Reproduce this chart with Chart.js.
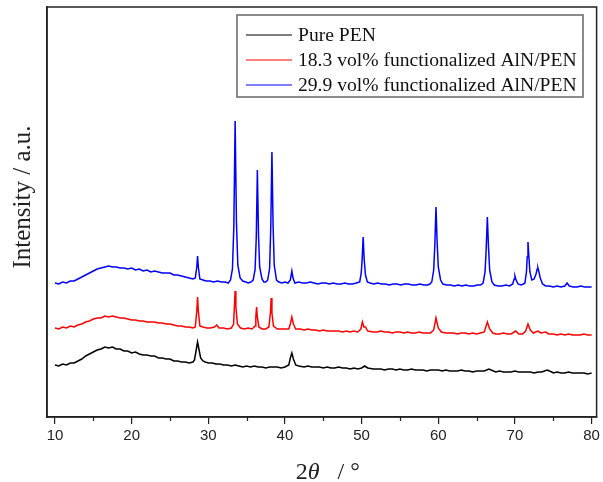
<!DOCTYPE html>
<html>
<head>
<meta charset="utf-8">
<script src="https://cdn.jsdelivr.net/npm/chart.js@4/dist/chart.umd.min.js"></script>
<style>
  html, body { margin: 0; padding: 0; background: #fff; }
  #wrap { width: 603px; height: 482px; }
</style>
</head>
<body>
<div id="wrap"><canvas id="xrd" width="603" height="482"></canvas></div>
<script>
const seriesLabels = ['Pure PEN', '18.3 vol% functionalized AlN/PEN', '29.9 vol% functionalized AlN/PEN']
const seriesColors = ['#000000', '#ff0000', '#0000ff']
const xTicks = [10, 20, 30, 40, 50, 60, 70, 80]
const xMinorTicks = [15, 25, 35, 45, 55, 65, 75]

// [2theta, intensity] pairs, curves already offset from each other
const purePEN = [
  [10,52],[10.5,51],[11,53],[11.5,52],[12,54],[12.5,54],[13,56],[13.5,58],[14,61],[14.5,63],[15,65],[15.5,67],
  [16,68],[16.5,70],[17,69],[17.5,70],[18,68],[18.5,68],[19,66],[19.5,66],[20,64],[20.5,65],[21,63],[21.5,62],
  [22,62],[22.5,61],[23,61],[23.5,59],[24,59],[24.5,58],[25,58],[25.5,56],[26,56],[26.5,55],[27,55],[27.5,54],
  [28,55],[28.2,57],[28.4,66],[28.6,75],[28.8,67],[29,59],[29.3,56],[29.6,55],[30,54],[30.5,54],[31,53],[31.5,53],
  [32,52],[32.5,52],[33,51],[33.5,52],[34,51],[34.5,50],[35,51],[35.5,50],[36,51],[36.5,50],[37,50],[37.5,49],
  [38,50],[38.5,50],[39,50],[39.5,49],[40,50],[40.5,52],[40.7,59],[40.9,64],[41.1,58],[41.4,52],[41.8,51],[42.5,50],
  [43,51],[43.5,50],[44,50],[44.5,50],[45,49],[45.5,50],[46,49],[46.5,49],[47,50],[47.5,49],[48,49],[48.5,48],
  [49,49],[49.5,48],[50,49],[50.4,51],[50.8,49],[51.5,48],[52,48],[52.5,48],[53,47],[53.5,48],[54,48],[54.5,47],
  [55,48],[55.5,47],[56,47],[56.5,48],[57,47],[57.5,47],[58,47],[58.5,46],[59,47],[59.5,47],[60,47],[60.5,46],
  [61,47],[61.5,46],[62,46],[62.5,46],[63,47],[63.5,46],[64,46],[64.5,45],[65,46],[65.5,46],[66,46],[66.6,48],
  [67.2,46],[67.5,45],[68,46],[68.5,45],[69,45],[69.5,45],[70,46],[70.5,45],[71,45],[71.5,45],[72,45],[72.5,44],
  [73,45],[73.5,45],[74.2,47],[74.8,45],[75,44],[75.5,45],[76,44],[76.5,44],[77,45],[77.5,44],[78,44],[78.5,44],
  [79,44],[79.5,43],[80,44]
]

const aln183 = [
  [10,89],[10.5,88],[11,90],[11.5,89],[12,91],[12.5,90],[13,92],[13.5,93],[14,95],[14.5,96],[15,98],[15.5,99],
  [16,99],[16.5,101],[17,100],[17.5,101],[18,100],[18.5,99],[19,99],[19.5,98],[20,97],[20.5,97],[21,96],[21.5,96],
  [22,95],[22.5,95],[23,95],[23.5,94],[24,94],[24.5,93],[25,93],[25.5,92],[26,91],[26.5,91],[27,90],[27.5,90],
  [28,89],[28.3,90],[28.5,106],[28.6,120],[28.7,106],[28.9,91],[29.3,90],[29.8,89],[30.3,89],[30.8,90],[31.1,92],
  [31.4,89],[32,89],[32.5,88],[33,89],[33.3,93],[33.4,110],[33.5,126],[33.6,110],[33.8,93],[34.2,89],[34.7,88],
  [35.2,89],[35.7,88],[36.1,91],[36.2,100],[36.3,110],[36.4,100],[36.6,90],[37,88],[37.5,88],[37.9,90],[38.1,104],
  [38.2,119],[38.3,104],[38.5,91],[39,88],[39.5,88],[40,88],[40.5,88],[40.7,93],[40.9,100],[41.1,93],[41.4,88],
  [42,88],[42.5,87],[43,88],[43.5,87],[44,87],[44.5,86],[45,87],[45.5,86],[46,86],[46.5,86],[47,86],[47.5,85],
  [48,86],[48.5,85],[49,86],[49.5,85],[49.9,88],[50.1,95],[50.3,90],[50.5,90],[50.8,86],[51.5,85],[52,85],[52.5,86],
  [53,85],[53.5,85],[54,84],[54.5,85],[55,85],[55.5,84],[56,85],[56.5,84],[57,84],[57.5,85],[58,84],[58.5,84],
  [59,84],[59.4,87],[59.7,99],[60,89],[60.4,85],[61,84],[61.5,84],[62,84],[62.5,83],[63,84],[63.5,84],[64,83],
  [64.5,84],[65,83],[65.5,84],[66,85],[66.4,95],[66.7,88],[67.1,84],[67.5,83],[68,83],[68.5,84],[69,83],[69.5,83],
  [70.1,86],[70.5,83],[71,83],[71.4,86],[71.7,93],[72,87],[72.4,84],[73,86],[73.4,84],[74,85],[74.4,83],[75,83],
  [75.5,82],[76,83],[76.5,82],[77,83],[77.5,82],[78,82],[78.5,82],[79,83],[79.5,82],[80,82]
]

const aln299 = [
  [10,134],[10.5,133],[11,135],[11.5,134],[12,136],[12.5,136],[13,138],[13.5,140],[14,142],[14.5,144],[15,146],
  [15.5,148],[16,149],[16.5,150],[17,151],[17.5,150],[18,150],[18.5,149],[19,149],[19.5,148],[20,149],[20.5,147],
  [21,148],[21.5,146],[22,147],[22.5,145],[23,146],[23.5,145],[24,144],[24.5,144],[25,144],[25.5,142],[26,142],
  [26.5,141],[27,140],[27.5,139],[28,138],[28.3,139],[28.5,150],[28.6,161],[28.7,150],[28.9,138],[29.3,137],
  [29.7,136],[30.2,136],[30.7,135],[31.2,136],[31.7,135],[32.2,135],[32.6,134],[32.9,137],[33.15,148],[33.33,190],
  [33.5,296],[33.67,195],[33.85,152],[34.15,139],[34.5,136],[34.9,135],[35.2,134],[35.55,135],[35.85,137],[36.1,147],
  [36.26,180],[36.4,247],[36.55,182],[36.7,150],[37.0,138],[37.25,135],[37.5,135],[37.75,137],[38.0,149],[38.15,190],
  [38.3,265],[38.45,192],[38.6,152],[38.9,137],[39.2,135],[39.6,134],[40.0,135],[40.4,134],[40.7,137],[40.9,146],
  [41.05,139],[41.3,134],[41.8,135],[42.3,134],[42.8,134],[43.3,135],[43.8,134],[44.3,133],[44.8,134],[45.3,134],
  [45.8,133],[46.3,134],[46.8,133],[47.3,133],[47.8,134],[48.3,133],[48.8,133],[49.3,134],[49.75,135],[49.95,144],
  [50.07,158],[50.2,180],[50.33,158],[50.5,142],[50.75,135],[51.1,134],[51.6,133],[52.1,134],[52.6,133],[53.1,133],
  [53.6,132],[54.1,133],[54.6,133],[55.1,132],[55.6,133],[56.1,133],[56.6,132],[57.1,132],[57.6,133],[58.1,132],
  [58.6,132],[58.9,133],[59.15,135],[59.4,147],[59.55,172],[59.7,210],[59.85,175],[60.0,150],[60.3,137],[60.6,133],
  [61.1,132],[61.6,132],[62.1,131],[62.6,132],[63.1,131],[63.6,132],[64.1,131],[64.6,131],[65.1,132],[65.5,132],
  [65.85,134],[66.1,145],[66.25,168],[66.4,200],[66.55,170],[66.7,147],[67.0,135],[67.3,132],[67.8,131],[68.3,131],
  [68.8,132],[69.3,131],[69.7,133],[69.9,138],[70.0,141],[70.15,137],[70.4,133],[70.8,132],[71.1,133],[71.3,134],
  [71.5,145],[71.6,160],[71.7,175],[71.82,160],[71.95,145],[72.2,137],[72.5,138],[72.75,143],[72.9,148],[73.0,149],
  [73.1,146],[73.3,139],[73.6,133],[74.0,131],[74.5,131],[75.0,130],[75.5,131],[76.0,130],[76.5,131],[76.8,134],
  [77.1,131],[77.6,130],[78.1,130],[78.6,131],[79.1,130],[79.6,130],[80,130]
]

const toPoints = arr => arr.map(p => ({ x: p[0], y: p[1] }))

// frame, minor ticks, boxed legend and axis titles
const decorations = {
  id: 'decorations',
  afterDraw(chart) {
    const { ctx, chartArea: a, scales } = chart
    ctx.save()

    ctx.strokeStyle = '#222'
    ctx.lineWidth = 1.5
    ctx.strokeRect(a.left, a.top, a.right - a.left, a.bottom - a.top)

    ctx.lineWidth = 1.2
    xMinorTicks.forEach(v => {
      const px = Math.round(scales.x.getPixelForValue(v)) + 0.5
      ctx.beginPath()
      ctx.moveTo(px, a.bottom)
      ctx.lineTo(px, a.bottom + 4)
      ctx.stroke()
    })

    // legend box
    const lx = 237, ly = 15, lw = 346, lh = 82
    ctx.strokeStyle = '#666'
    ctx.lineWidth = 1.5
    ctx.strokeRect(lx, ly, lw, lh)
    ctx.font = '19.6px "Liberation Serif", "Times New Roman", serif'
    ctx.textBaseline = 'middle'
    chart.data.datasets.forEach((ds, i) => {
      const y = ly + 20 + i * 25
      ctx.strokeStyle = ds.borderColor
      ctx.lineWidth = 1
      ctx.beginPath()
      ctx.moveTo(lx + 9, y)
      ctx.lineTo(lx + 55, y)
      ctx.stroke()
      ctx.fillStyle = '#111'
      ctx.textAlign = 'left'
      ctx.fillText(ds.label, lx + 61, y + 1)
    })

    // y title
    ctx.save()
    ctx.translate(23, 197)
    ctx.rotate(-Math.PI / 2)
    ctx.textAlign = 'center'
    ctx.textBaseline = 'middle'
    ctx.fillStyle = '#222'
    ctx.font = '25px "Liberation Serif", "Times New Roman", serif'
    ctx.fillText('Intensity / a.u.', 0, 0)
    ctx.restore()

    // x title: 2θ / °
    ctx.textBaseline = 'alphabetic'
    ctx.textAlign = 'left'
    ctx.fillStyle = '#222'
    const parts = [
      ['2', '24px "Liberation Serif", serif'],
      ['\u03b8', 'italic 24px "Liberation Serif", serif'],
      ['   / \u00b0', '24px "Liberation Serif", serif']
    ]
    let total = 0
    parts.forEach(p => { ctx.font = p[1]; total += ctx.measureText(p[0]).width })
    let x = (a.left + a.right) / 2 + 6 - total / 2
    parts.forEach(p => {
      ctx.font = p[1]
      ctx.fillText(p[0], x, 479)
      x += ctx.measureText(p[0]).width
    })
    ctx.restore()
  }
}

new Chart(document.getElementById('xrd'), {
  type: 'line',
  data: {
    datasets: [purePEN, aln183, aln299].map((d, i) => ({
      label: seriesLabels[i],
      data: toPoints(d),
      borderColor: seriesColors[i],
      borderWidth: 1.5,
      pointRadius: 0,
      tension: 0,
      fill: false
    }))
  },
  options: {
    responsive: false,
    animation: false,
    layout: { padding: { top: 7, right: 5, left: 0, bottom: 0 } },
    plugins: { legend: { display: false }, tooltip: { enabled: false } },
    scales: {
      x: {
        type: 'linear',
        min: 8.96,
        max: 80.65,
        afterBuildTicks: scale => { scale.ticks = xTicks.map(v => ({ value: v })) },
        afterFit: scale => { scale.height = 65 },
        grid: { drawOnChartArea: false, drawTicks: true, tickLength: 7, color: '#222', lineWidth: 1.2 },
        border: { display: true, color: '#222', width: 1.5 },
        ticks: {
          padding: 3,
          color: '#222',
          font: { family: '"Liberation Sans", Arial, sans-serif', size: 15 }
        }
      },
      y: {
        min: 0,
        max: 410,
        afterFit: scale => { scale.width = 47 },
        grid: { display: false, drawTicks: false },
        border: { display: true, color: '#222', width: 1.5 },
        ticks: { display: false }
      }
    }
  },
  plugins: [decorations]
})
</script>
</body>
</html>
